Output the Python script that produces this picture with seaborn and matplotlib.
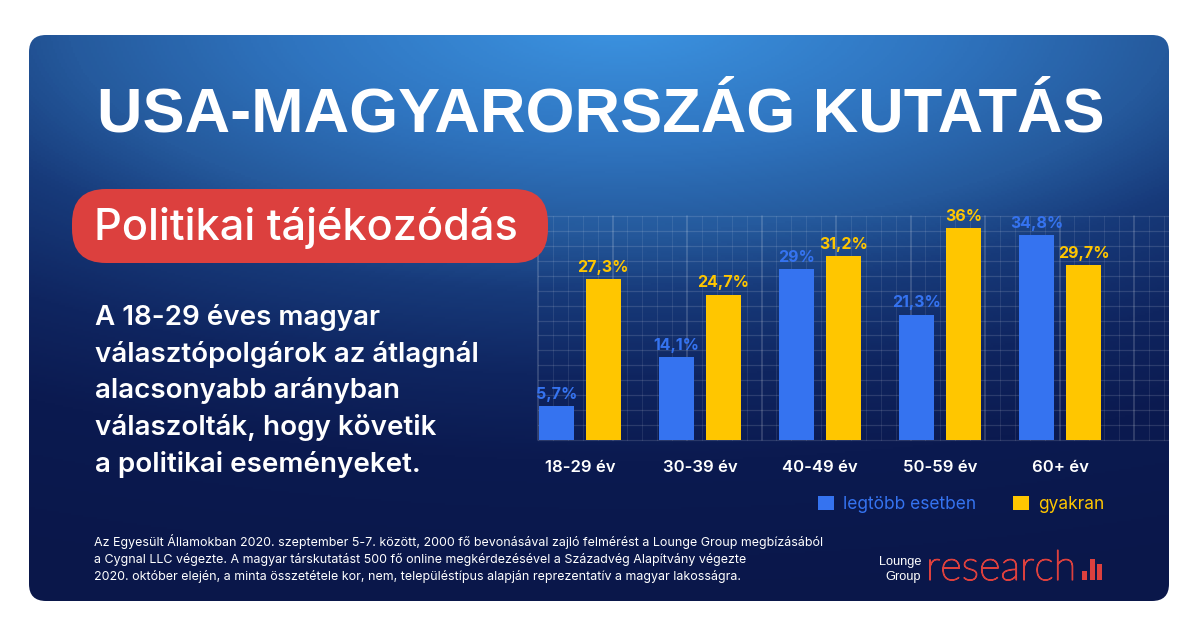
import numpy as np
import pandas as pd
import seaborn as sns
import matplotlib
matplotlib.use("Agg")
import matplotlib.pyplot as plt
import matplotlib.patheffects as pe
from matplotlib.colors import LinearSegmentedColormap
from matplotlib.patches import FancyBboxPatch, Rectangle

ages = ["18-29 év", "30-39 év", "40-49 év", "50-59 év", "60+ év"]
legtobb = [5.7, 14.1, 29, 21.3, 34.8]
gyakran = [27.3, 24.7, 31.2, 36, 29.7]
series_names = ["legtöbb esetben", "gyakran"]
title = "USA-MAGYARORSZÁG KUTATÁS"
badge = "Politikai tájékozódás"
body_lines = ["A 18-29 éves magyar", "választópolgárok az átlagnál", "alacsonyabb arányban",
              "válaszolták, hogy követik", "a politikai eseményeket."]
foot_lines = ["Az Egyesült Államokban 2020. szeptember 5-7. között, 2000 fő bevonásával zajló felmérést a Lounge Group megbízásából",
              "a Cygnal LLC végezte. A magyar társkutatást 500 fő online megkérdezésével a Századvég Alapítvány végezte",
              "2020. október elején, a minta összetétele kor, nem, településtípus alapján reprezentatív a magyar lakosságra."]

BLUE, YELLOW, RED = "#3573F0", "#FFC600", "#DC403E"
W, H = 1200, 628
px = 0.72  # points per pixel at dpi 100

sns.set_theme(style="white")
plt.rcParams['font.family'] = ['Inter', 'DejaVu Sans']
fig = plt.figure(figsize=(W / 100, H / 100), dpi=100, facecolor="white")

# decoration layer in pixel coordinates
bg = fig.add_axes([0, 0, 1, 1])
bg.set_xlim(0, W); bg.set_ylim(H, 0); bg.axis("off")
yy, xx = np.mgrid[35:601:283j, 29:1169:570j]
t = np.sqrt(((xx - 620) / 1100) ** 2 + ((yy - 20) / 420) ** 2)
cmap = LinearSegmentedColormap.from_list("panel", [
    (0, "#3C94E2"), (.3 / 1.4, "#2F74BF"), (.5 / 1.4, "#255A9D"), (.65 / 1.4, "#173A7A"),
    (.85 / 1.4, "#0F2560"), (1.05 / 1.4, "#0B1A50"), (1, "#0A174A")])
im = bg.imshow(t, extent=(29, 1169, 601, 35), cmap=cmap, vmin=0, vmax=1.4, aspect="auto", zorder=1)
panel = FancyBboxPatch((29, 35), 1140, 566, boxstyle="round,pad=0,rounding_size=17", fc="none", ec="none",
                       transform=bg.transData)
bg.add_patch(panel)
im.set_clip_path(panel)
bg.set_xlim(0, W); bg.set_ylim(H, 0)

# blueprint grid
gx = 538 + 14.9 * np.arange(0, 43)
gy = 216 + 14.93 * np.arange(0, 16)
gx = gx[gx <= 1168]
for i, x in enumerate(gx):
    bg.plot([x, x], [216, 440], color="white", lw=1.1 if i % 5 == 0 else 0.8,
            alpha=0.2 if i % 5 == 0 else 0.09, zorder=2)
for y in gy:
    bg.plot([538, 1168], [y, y], color="white", lw=0.9, alpha=0.13, zorder=2)

# chart
df = pd.DataFrame({"kor": ages * 2,
                   "arány": legtobb + gyakran,
                   "válasz": [series_names[0]] * 5 + [series_names[1]] * 5})
ax = fig.add_axes([538 / W, 1 - 440 / H, 630 / W, 224 / H])
ax.patch.set_alpha(0)
sns.barplot(data=df, x="kor", y="arány", hue="válasz", palette=[BLUE, YELLOW], width=0.783, gap=0.25,
            saturation=1, ax=ax, errorbar=None, linewidth=0, edgecolor="none")
ax.set_xlim(-0.348, 4.90)
ax.set_ylim(0, 38.06)
ax.set_xlabel(""); ax.set_ylabel(""); ax.set_yticks([])
sns.despine(ax=ax, left=True, bottom=True)
ax.tick_params(axis="x", length=0, pad=14.2, colors="white")
for lab in ax.get_xticklabels():
    lab.set_fontsize(16.7 * px); lab.set_fontweight("semibold")
for cont, col in zip(ax.containers, [BLUE, YELLOW]):
    ax.bar_label(cont, labels=[f"{v:g}%".replace(".", ",") for v in cont.datavalues], color=col,
                 fontsize=16 * px, fontweight="bold", padding=3)
leg = ax.legend(loc="lower left", bbox_to_anchor=(818 / W, 1 - 513 / H), bbox_transform=fig.transFigure,
                frameon=False, ncols=2, fontsize=17.3 * px, handlelength=0.93, handleheight=0.93,
                handletextpad=0.52, columnspacing=2.15, title=None, borderaxespad=0, borderpad=0)
for txt, col in zip(leg.get_texts(), [BLUE, YELLOW]):
    txt.set_color(col)

# texts
bg.text(601, 131, title, ha="center", va="baseline", color="white", fontsize=63 * px, fontweight="bold",
        family=["Liberation Sans"], zorder=5)
bg.add_patch(FancyBboxPatch((72, 189), 476, 74, boxstyle="round,pad=0,rounding_size=34", fc=RED, ec="none", zorder=4))
bg.text(94, 240, badge, ha="left", va="baseline", color="white", fontsize=43.3 * px, fontweight="medium", zorder=5)
for line, y in zip(body_lines, [325, 362, 398, 435, 472]):
    bg.text(95, y, line, ha="left", va="baseline", color="white", fontsize=27.8 * px, fontweight="semibold", zorder=5)
for line, y in zip(foot_lines, [546, 563, 580]):
    bg.text(94, y, line, ha="left", va="baseline", color="white", fontsize=12.46 * px, zorder=5)

# logo
bg.text(921, 565, "Lounge", ha="right", va="baseline", color="white", fontsize=12.8 * px, family=["Liberation Sans"], zorder=5)
bg.text(921, 580, "Group", ha="right", va="baseline", color="white", fontsize=12.8 * px, family=["Liberation Sans"], zorder=5)
bg.text(926, 580, "research", ha="left", va="baseline", color=RED, fontsize=41.5 * px, family=["Lato"], fontweight="light", zorder=5,
        path_effects=[pe.withStroke(linewidth=0.9, foreground=RED)])
for x0, top in zip([1082, 1090, 1097], [571, 559, 564]):
    bg.add_patch(Rectangle((x0, top), 5, 580 - top, fc=RED, ec="none", zorder=5))

fig.savefig("out.png", dpi=100, facecolor="white")
